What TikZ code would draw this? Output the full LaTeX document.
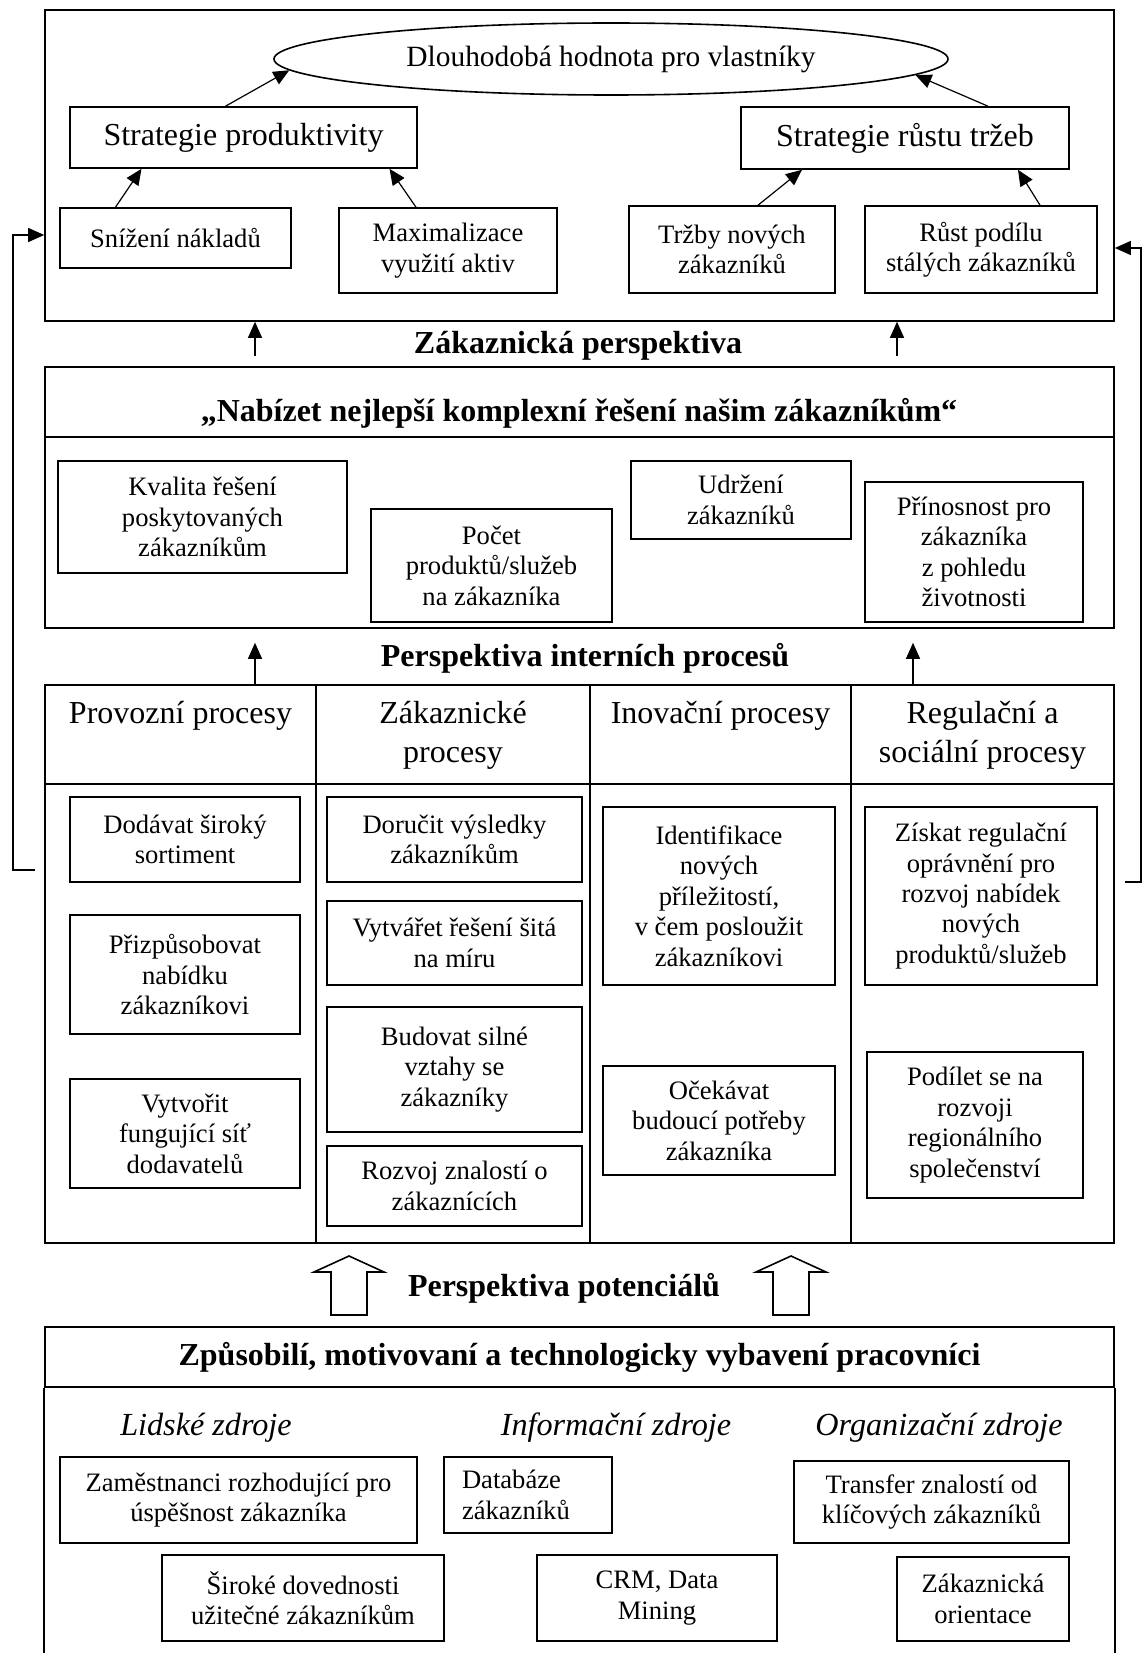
\documentclass[tikz,border=0pt]{standalone}
\usepackage{fontspec}
\setmainfont{Liberation Serif}
\usetikzlibrary{shapes.geometric, arrows.meta}

\begin{document}
\begin{tikzpicture}[x=0.5pt, y=-0.5pt,
    sz/.style 2 args={minimum width=#1*0.5pt, minimum height=#2*0.5pt},
    frame/.style={draw, line width=0.8pt, inner sep=0pt},
    box/.style={frame, align=center, font=\fontsize{13.3}{15.2}\selectfont},
    big/.style={align=center, font=\fontsize{16}{19.5}\selectfont},
    title/.style={font=\bfseries\fontsize{16}{19}\selectfont},
    res/.style={font=\itshape\fontsize{16.1}{19}\selectfont},
    arr/.style={-{Triangle[length=8pt,width=7pt]}, line width=0.6pt}]

    \useasboundingbox (0,0) rectangle (1145,1653);

    % Financial perspective
    \node[frame, sz={1069}{311}] (fin) at (579.5,165.5) {};
    \node[draw, ellipse, line width=0.8pt, inner sep=0pt, sz={674}{72}, font=\fontsize{14.7}{18}\selectfont] (ell) at (611,59) {Dlouhodobá hodnota pro vlastníky};
    \node[frame, sz={347}{61}, big] (sp) at (243.5,137.5) {Strategie produktivity};
    \node[frame, sz={328}{62}, big] (srt) at (905,138) {Strategie růstu tržeb};
    \node[box, sz={231}{60}] (sn) at (175.5,238) {Snížení nákladů};
    \node[box, sz={218}{85}] (maxi) at (448,250.5) {Maximalizace\\využití aktiv};
    \node[box, sz={206}{87}] (trz) at (732,249.5) {Tržby nových\\zákazníků};
    \node[box, sz={232}{87}] (rust) at (981,249.5) {Růst podílu\\stálých zákazníků};

    \draw[arr] ([xshift=-9pt]sp.north) -- (ell.182);
    \draw[arr] ([xshift=41.5pt]srt.north) -- (ell.357);
    \draw[arr] ([xshift=-30pt]sn.north) -- ([xshift=-51pt]sp.south);
    \draw[arr] ([xshift=-16pt]maxi.north) -- ([xshift=73pt]sp.south);
    \draw[arr] ([xshift=13pt]trz.north) -- ([xshift=-51.5pt]srt.south);
    \draw[arr] ([xshift=29.5pt]rust.north) -- ([xshift=56.5pt]srt.south);

    % Customer perspective
    \node[title] (zp) at (578,346) {Zákaznická perspektiva};
    \coordinate (za1) at (255,356);
    \coordinate (za2) at (897,356);
    \draw[arr] (za1) -- (za1 |- fin.south);
    \draw[arr] (za2) -- (za2 |- fin.south);

    \node[frame, sz={1069}{70}] (custhead) at (579.5,402) {};
    \node[title] (mission) at (579,413) {„Nabízet nejlepší komplexní řešení našim zákazníkům“};
    \node[frame, sz={1069}{191}] (custbody) at (579.5,532.5) {};
    \node[box, sz={289}{112}] (kval) at (202.5,517) {Kvalita řešení\\poskytovaných\\zákazníkům};
    \node[box, sz={241}{113}] (pocet) at (491.5,565.5) {Počet\\produktů/služeb\\na zákazníka};
    \node[box, sz={220}{78}] (udrz) at (741,500) {Udržení\\zákazníků};
    \node[box, sz={218}{140}] (prin) at (974,552) {Přínosnost pro\\zákazníka\\z pohledu\\životnosti};

    % Internal process perspective
    \node[title] (ipp) at (585,658) {Perspektiva interních procesů};
    \coordinate (pa1) at (255,685);
    \coordinate (pa2) at (913,685);
    \draw[arr, shorten >=7pt] (pa1) -- (pa1 |- custbody.south);
    \draw[arr, shorten >=7pt] (pa2) -- (pa2 |- custbody.south);

    \node[frame, sz={1069}{558}] (procs) at (579.5,964) {};
    \draw[frame] (45,784) -- (1114,784);
    \foreach \x in {316,590,851}
        \draw[frame] (\x,685) -- (\x,1243);
    \node[big] (h1) at (180.5,716) {Provozní procesy};
    \node[big] (h2) at (453,735.5) {Zákaznické\\procesy};
    \node[big] (h3) at (720.5,716) {Inovační procesy};
    \node[big] (h4) at (982.5,735.5) {Regulační a\\sociální procesy};

    \node[box, sz={230}{85}] (dod) at (185,839.5) {Dodávat široký\\sortiment};
    \node[box, sz={230}{119}] (priz) at (185,974.5) {Přizpůsobovat\\nabídku\\zákazníkovi};
    \node[box, sz={230}{109}] (vytv) at (185,1133.5) {Vytvořit\\fungující síť\\dodavatelů};
    \node[box, sz={255}{85}] (dor) at (454.5,839.5) {Doručit výsledky\\zákazníkům};
    \node[box, sz={255}{84}] (sit) at (454.5,943) {Vytvářet řešení šitá\\na míru};
    \node[box, sz={255}{125}] (bud) at (454.5,1069.5) {Budovat silné\\vztahy se\\zákazníky};
    \node[box, sz={255}{80}] (roz) at (454.5,1186) {Rozvoj znalostí o\\zákaznících};
    \node[box, sz={232}{178}] (ident) at (719,896) {Identifikace\\nových\\příležitostí,\\v čem posloužit\\zákazníkovi};
    \node[box, sz={232}{109}] (ocek) at (719,1120.5) {Očekávat\\budoucí potřeby\\zákazníka};
    \node[box, sz={232}{178}] (ziskat) at (981,896) {Získat regulační\\oprávnění pro\\rozvoj nabídek\\nových\\produktů/služeb};
    \node[box, sz={216}{146}] (podil) at (975,1125) {Podílet se na\\rozvoji\\regionálního\\společenství};

    % Feedback to the owners
    \coordinate (lfb) at (35,870);
    \coordinate (lcor) at (13,235);
    \draw[arr] (lfb) -| (lcor) -- (lcor -| fin.west);
    \coordinate (rfb) at (1125,882);
    \coordinate (rcor) at (1141,248);
    \draw[arr] (rfb) -| (rcor) -- (rcor -| fin.east);

    % Learning and growth perspective
    \node[title] (potlab) at (564,1288) {Perspektiva potenciálů};
    \foreach \c in {349,791}
        \draw[frame] (\c-18,1315) -- (\c-18,1272) -- (\c-35,1272) -- (\c,1256)
            -- (\c+35,1272) -- (\c+18,1272) -- (\c+18,1315) -- cycle;

    \node[frame, title, sz={1069}{60}] (pothead) at (579.5,1357) {Způsobilí, motivovaní a technologicky vybavení pracovníci};
    \draw[frame] (pothead.south west) -- ++(0,270);
    \draw[frame] (pothead.south east) -- ++(0,270);

    \node[res] (lz) at (206,1428) {Lidské zdroje};
    \node[res] (iz) at (616,1428) {Informační zdroje};
    \node[res] (oz) at (939,1428) {Organizační zdroje};

    \node[box, sz={357}{86}] (zam) at (238.5,1500) {Zaměstnanci rozhodující pro\\úspěšnost zákazníka};
    \node[box, sz={168}{76}, align=left, text width=66pt] (datab) at (528,1495) {Databáze\\zákazníků};
    \node[box, sz={275}{82}] (trans) at (931.5,1502) {Transfer znalostí od\\klíčových zákazníků};
    \node[box, sz={282}{86}] (sir) at (303,1598) {Široké dovednosti\\užitečné zákazníkům};
    \node[box, sz={240}{86}] (crm) at (657,1598) {CRM, Data\\Mining};
    \node[box, sz={172}{84}] (zor) at (983,1599) {Zákaznická\\orientace};

\end{tikzpicture}
\end{document}
